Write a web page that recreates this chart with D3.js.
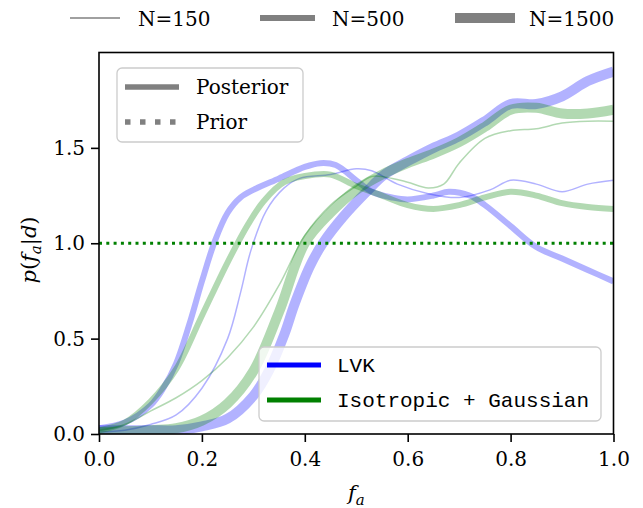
<!DOCTYPE html>
<html>
<head>
<meta charset="utf-8">
<script src="https://cdn.jsdelivr.net/npm/d3@7"></script>
<style>
  body { margin: 0; background: #fff; }
  text { font-family: "DejaVu Serif", serif; fill: #000; }
  .mono { font-family: "Liberation Mono", "DejaVu Sans Mono", monospace; }
</style>
</head>
<body>
<div class="svgcontainer"></div>
<script>
// fraction grid for each curve and p(f_a|d)
const lvk150x  = [0, 0.05, 0.1, 0.15, 0.2, 0.25, 0.275, 0.295, 0.325, 0.36, 0.39, 0.45, 0.5, 0.53, 0.58, 0.64, 0.7, 0.76, 0.8, 0.85, 0.9, 0.95, 1.0];
const lvk150y  = [0.01, 0.02, 0.05, 0.1, 0.24, 0.5, 0.74, 0.96, 1.17, 1.29, 1.34, 1.36, 1.39, 1.38, 1.31, 1.26, 1.24, 1.28, 1.33, 1.31, 1.27, 1.31, 1.33];
const lvk500x  = [0, 0.05, 0.1, 0.125, 0.15, 0.175, 0.2, 0.225, 0.25, 0.275, 0.3, 0.35, 0.4, 0.43, 0.46, 0.5, 0.53, 0.57, 0.6, 0.65, 0.68, 0.72, 0.75, 0.8, 0.85, 0.9, 0.95, 1.0];
const lvk500y  = [0.03, 0.06, 0.15, 0.24, 0.37, 0.57, 0.8, 1.01, 1.16, 1.24, 1.28, 1.34, 1.4, 1.42, 1.41, 1.33, 1.27, 1.24, 1.23, 1.25, 1.27, 1.25, 1.2, 1.09, 0.98, 0.92, 0.86, 0.8];
const lvk1500x = [0, 0.1, 0.15, 0.2, 0.25, 0.3, 0.33, 0.36, 0.38, 0.41, 0.435, 0.475, 0.52, 0.555, 0.6, 0.65, 0.7, 0.75, 0.8, 0.85, 0.9, 0.95, 1.0];
const lvk1500y = [0.02, 0.02, 0.02, 0.04, 0.08, 0.2, 0.33, 0.52, 0.68, 0.88, 1.0, 1.14, 1.27, 1.36, 1.43, 1.5, 1.56, 1.64, 1.73, 1.73, 1.77, 1.85, 1.9];

const iso150x  = [0, 0.05, 0.1, 0.15, 0.2, 0.25, 0.3, 0.35, 0.4, 0.45, 0.5, 0.53, 0.57, 0.6, 0.64, 0.67, 0.7, 0.75, 0.8, 0.85, 0.9, 0.95, 1.0];
const iso150y  = [0.02, 0.05, 0.12, 0.19, 0.28, 0.4, 0.56, 0.78, 1.04, 1.2, 1.3, 1.35, 1.34, 1.32, 1.29, 1.31, 1.42, 1.55, 1.59, 1.6, 1.63, 1.64, 1.64];
const iso500x  = [0, 0.05, 0.1, 0.15, 0.2, 0.25, 0.29, 0.32, 0.36, 0.42, 0.45, 0.5, 0.55, 0.6, 0.65, 0.7, 0.75, 0.8, 0.85, 0.9, 0.95, 1.0];
const iso500y  = [0.02, 0.06, 0.17, 0.34, 0.62, 0.9, 1.1, 1.22, 1.32, 1.36, 1.36, 1.3, 1.25, 1.2, 1.18, 1.2, 1.24, 1.27, 1.25, 1.21, 1.19, 1.18];
const iso1500x = [0, 0.1, 0.15, 0.2, 0.25, 0.3, 0.35, 0.4, 0.45, 0.5, 0.55, 0.6, 0.65, 0.7, 0.75, 0.8, 0.85, 0.9, 0.95, 1.0];
const iso1500y = [0.01, 0.02, 0.03, 0.07, 0.16, 0.33, 0.64, 1.0, 1.16, 1.28, 1.36, 1.42, 1.47, 1.53, 1.61, 1.7, 1.71, 1.68, 1.68, 1.7];

const priorValue = 1.0;
const xTicks = [0, 0.2, 0.4, 0.6, 0.8, 1.0];
const yTicks = [0, 0.5, 1.0, 1.5];
const sizeLabels = ["N=150", "N=500", "N=1500"];
const modelLabels = ["LVK", "Isotropic + Gaussian"];

const width = 643, height = 508;
const margin = {top: 52.5, right: 29.5, bottom: 74, left: 99};

const svg = d3.select('.svgcontainer')
  .append('svg')
  .attr('width', width)
  .attr('height', height);

const x = d3.scaleLinear().domain([0, 1]).range([margin.left, width - margin.right]);
const y = d3.scaleLinear().domain([0, 2]).range([height - margin.bottom, margin.top]);

svg.append('clipPath').attr('id', 'clip')
  .append('rect')
  .attr('x', x(0)).attr('y', y(2))
  .attr('width', x(1) - x(0)).attr('height', y(0) - y(2));

const line = d3.line()
  .x(d => x(d[0]))
  .y(d => y(d[1]))
  .curve(d3.curveCatmullRom.alpha(0.5));

const widths = [1.5, 6, 10];
const curves = [
  {xs: lvk150x, ys: lvk150y, c: 'blue', w: widths[0]},
  {xs: lvk500x, ys: lvk500y, c: 'blue', w: widths[1]},
  {xs: lvk1500x, ys: lvk1500y, c: 'blue', w: widths[2]},
  {xs: iso150x, ys: iso150y, c: 'green', w: widths[0]},
  {xs: iso500x, ys: iso500y, c: 'green', w: widths[1]},
  {xs: iso1500x, ys: iso1500y, c: 'green', w: widths[2]}
];

const plot = svg.append('g').attr('clip-path', 'url(#clip)');

plot.selectAll('.post')
  .data(curves)
  .enter()
  .append('path')
  .attr('class', 'post')
  .attr('fill', 'none')
  .attr('stroke', d => d.c)
  .attr('stroke-opacity', 0.3)
  .attr('stroke-width', d => d.w)
  .attr('d', d => line(d.xs.map((v, i) => [v, d.ys[i]])));

// prior
plot.append('line')
  .attr('x1', x(0)).attr('x2', x(1))
  .attr('y1', y(priorValue)).attr('y2', y(priorValue))
  .attr('stroke', 'green')
  .attr('stroke-width', 3)
  .attr('stroke-dasharray', '3,4.3');

// axes
const xAxis = svg.append('g')
  .attr('transform', `translate(0,${y(0)})`)
  .call(d3.axisBottom(x).tickValues(xTicks).tickFormat(d3.format('.1f')).tickSize(8).tickPadding(10));
const yAxis = svg.append('g')
  .attr('transform', `translate(${x(0)},0)`)
  .call(d3.axisLeft(y).tickValues(yTicks).tickFormat(d3.format('.1f')).tickSize(8).tickPadding(6));

[xAxis, yAxis].forEach(a => {
  a.select('.domain').remove();
  a.selectAll('line').attr('stroke', '#000').attr('stroke-width', 1.6);
  a.selectAll('text').style('font-family', '"DejaVu Serif", serif').style('font-size', '20px').attr('fill', '#000');
});

svg.append('rect')
  .attr('x', x(0)).attr('y', y(2))
  .attr('width', x(1) - x(0)).attr('height', y(0) - y(2))
  .attr('fill', 'none')
  .attr('stroke', '#000')
  .attr('stroke-width', 1.6);

// axis labels
const xl = svg.append('text')
  .attr('x', (x(0) + x(1)) / 2)
  .attr('y', 500)
  .attr('text-anchor', 'middle')
  .style('font-size', '21px');
xl.append('tspan').style('font-style', 'italic').text('f');
xl.append('tspan').style('font-style', 'italic').style('font-size', '15px').attr('dy', 5).text('a');

const yl = svg.append('text')
  .attr('transform', `translate(36,250) rotate(-90)`)
  .attr('text-anchor', 'middle')
  .style('font-size', '21px');
yl.append('tspan').style('font-style', 'italic').text('p');
yl.append('tspan').text('(');
yl.append('tspan').style('font-style', 'italic').text('f');
yl.append('tspan').style('font-style', 'italic').style('font-size', '15px').attr('dy', 5).text('a');
yl.append('tspan').attr('dy', -5).text('|');
yl.append('tspan').style('font-style', 'italic').text('d');
yl.append('tspan').text(')');

// top legend: line widths
const topLeg = svg.append('g');
const topX = [70, 260, 455];
const topLen = [50, 55, 60];
const topTextX = [138, 332, 529];
sizeLabels.forEach((s, i) => {
  topLeg.append('line')
    .attr('x1', topX[i]).attr('x2', topX[i] + topLen[i])
    .attr('y1', 18).attr('y2', 18)
    .attr('stroke', 'gray')
    .attr('stroke-width', widths[i]);
  topLeg.append('text')
    .attr('x', topTextX[i]).attr('y', 26)
    .style('font-size', '20px')
    .text(s);
});

// posterior / prior legend
const lg1 = svg.append('g');
lg1.append('rect')
  .attr('x', 117).attr('y', 68).attr('width', 186).attr('height', 74)
  .attr('rx', 5)
  .attr('fill', 'white').attr('fill-opacity', 0.8)
  .attr('stroke', '#cccccc').attr('stroke-width', 1.3);
lg1.append('line')
  .attr('x1', 125).attr('x2', 179).attr('y1', 87).attr('y2', 87)
  .attr('stroke', 'gray').attr('stroke-width', 5.5);
lg1.append('line')
  .attr('x1', 125).attr('x2', 179).attr('y1', 122).attr('y2', 122)
  .attr('stroke', 'gray').attr('stroke-width', 5.5)
  .attr('stroke-dasharray', '5.5,9.5');
lg1.append('text').attr('x', 196).attr('y', 94).style('font-size', '20px').text('Posterior');
lg1.append('text').attr('x', 196).attr('y', 129).style('font-size', '20px').text('Prior');

// model legend
const lg2 = svg.append('g');
lg2.append('rect')
  .attr('x', 259).attr('y', 347).attr('width', 342).attr('height', 74)
  .attr('rx', 5)
  .attr('fill', 'white').attr('fill-opacity', 0.8)
  .attr('stroke', '#cccccc').attr('stroke-width', 1.3);
const modelColors = ['blue', 'green'];
modelLabels.forEach((m, i) => {
  lg2.append('line')
    .attr('x1', 267).attr('x2', 321)
    .attr('y1', 365 + i * 35).attr('y2', 365 + i * 35)
    .attr('stroke', modelColors[i]).attr('stroke-width', 5);
  lg2.append('text')
    .attr('class', 'mono')
    .attr('x', 337).attr('y', 372 + i * 35)
    .style('font-size', '21px')
    .text(m);
});
</script>
</body>
</html>
